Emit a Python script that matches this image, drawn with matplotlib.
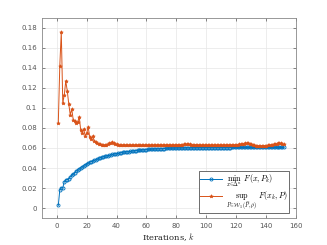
import matplotlib
matplotlib.use('Agg')
from matplotlib import pyplot as plt
from matplotlib.ticker import FormatStrFormatter

# iterations 1..152
k = list(range(1, 153))

# min_x F(x, P_k)  (lower bound)
lower = [
    0.0026, 0.0180, 0.0205, 0.0200, 0.0265, 0.0280, 0.0285, 0.0295, 0.0310, 0.0330,
    0.0340, 0.0355, 0.0370, 0.0385, 0.0395, 0.0405, 0.0415, 0.0425, 0.0435, 0.0442,
    0.0450, 0.0458, 0.0465, 0.0472, 0.0478, 0.0484, 0.0490, 0.0496, 0.0501, 0.0506,
    0.0511, 0.0515, 0.0519, 0.0523, 0.0527, 0.0531, 0.0535, 0.0538, 0.0541, 0.0544,
    0.0547, 0.0550, 0.0553, 0.0555, 0.0558, 0.0560, 0.0562, 0.0564, 0.0566, 0.0568,
    0.0570, 0.0572, 0.0574, 0.0575, 0.0577, 0.0578, 0.0580, 0.0581, 0.0582, 0.0584,
    0.0585, 0.0586, 0.0587, 0.0588, 0.0589, 0.0590, 0.0591, 0.0592, 0.0592, 0.0593,
    0.0594, 0.0594, 0.0595, 0.0596, 0.0596, 0.0597, 0.0597, 0.0598, 0.0598, 0.0599,
    0.0599, 0.0599, 0.0600, 0.0600, 0.0600, 0.0601, 0.0601, 0.0601, 0.0601, 0.0602,
    0.0602, 0.0602, 0.0602, 0.0602, 0.0603, 0.0603, 0.0603, 0.0603, 0.0603, 0.0603,
    0.0603, 0.0603, 0.0604, 0.0604, 0.0604, 0.0604, 0.0604, 0.0604, 0.0604, 0.0604,
    0.0604, 0.0604, 0.0604, 0.0604, 0.0604, 0.0604, 0.0605, 0.0605, 0.0605, 0.0605,
    0.0605, 0.0605, 0.0605, 0.0605, 0.0605, 0.0605, 0.0605, 0.0605, 0.0605, 0.0605,
    0.0605, 0.0605, 0.0605, 0.0605, 0.0605, 0.0605, 0.0605, 0.0605, 0.0605, 0.0605,
    0.0605, 0.0605, 0.0605, 0.0605, 0.0605, 0.0605, 0.0605, 0.0605, 0.0605, 0.0605,
    0.0605, 0.0605,
]

# sup_P F(x_k, P)  (upper bound)
upper = [
    0.0850, 0.1420, 0.1760, 0.1050, 0.1130, 0.1270, 0.1170, 0.1040, 0.0930, 0.0990,
    0.0880, 0.0870, 0.0850, 0.0860, 0.0910, 0.0780, 0.0750, 0.0790, 0.0720, 0.0750,
    0.0810, 0.0710, 0.0690, 0.0720, 0.0670, 0.0660, 0.0645, 0.0640, 0.0635, 0.0632,
    0.0630, 0.0630, 0.0632, 0.0638, 0.0645, 0.0652, 0.0655, 0.0650, 0.0643, 0.0636,
    0.0632, 0.0630, 0.0630, 0.0629, 0.0629, 0.0629, 0.0629, 0.0628, 0.0628, 0.0628,
    0.0628, 0.0628, 0.0628, 0.0628, 0.0628, 0.0628, 0.0628, 0.0628, 0.0628, 0.0628,
    0.0628, 0.0628, 0.0628, 0.0628, 0.0628, 0.0628, 0.0628, 0.0628, 0.0628, 0.0628,
    0.0628, 0.0628, 0.0628, 0.0628, 0.0628, 0.0628, 0.0628, 0.0628, 0.0629, 0.0630,
    0.0631, 0.0632, 0.0633, 0.0634, 0.0635, 0.0635, 0.0636, 0.0636, 0.0635, 0.0634,
    0.0633, 0.0632, 0.0631, 0.0630, 0.0629, 0.0629, 0.0628, 0.0628, 0.0628, 0.0628,
    0.0628, 0.0628, 0.0628, 0.0628, 0.0628, 0.0628, 0.0628, 0.0628, 0.0628, 0.0628,
    0.0629, 0.0629, 0.0629, 0.0629, 0.0630, 0.0630, 0.0630, 0.0630, 0.0631, 0.0632,
    0.0633, 0.0635, 0.0638, 0.0641, 0.0644, 0.0647, 0.0648, 0.0645, 0.0640, 0.0635,
    0.0630, 0.0626, 0.0623, 0.0621, 0.0620, 0.0620, 0.0620, 0.0621, 0.0622, 0.0623,
    0.0625, 0.0627, 0.0630, 0.0633, 0.0636, 0.0639, 0.0642, 0.0645, 0.0646, 0.0645,
    0.0640, 0.0635,
]

xticks = list(range(0, 161, 20))
yticks = [0, 0.02, 0.04, 0.06, 0.08, 0.1, 0.12, 0.14, 0.16, 0.18]

plt.rcParams['mathtext.fontset'] = 'cm'

fig = plt.figure(figsize=(3.27, 2.45), dpi=100)
ax = fig.add_axes([0.128, 0.110, 0.777, 0.817])

blue = '#0072BD'
orange = '#D95319'

ax.plot(k, lower, color=blue, lw=0.7, marker='o', ms=2.2, mfc='none', mew=0.6,
        label=r'$\min_{x\in\Delta^n}\ F(x,P_k)$')
ax.plot(k, upper, color=orange, lw=0.7, marker='*', ms=2.6, mew=0.5,
        label=r'$\sup_{P\in\mathcal{W}_1(\widehat{P},\rho)}\ F(x_k,P)$')

ax.set_xlim(-10, 160)
ax.set_ylim(-0.01, 0.19)
ax.set_xticks(xticks)
ax.set_yticks(yticks)
ax.yaxis.set_major_formatter(FormatStrFormatter('%g'))
ax.tick_params(direction='in', labelsize=5, colors='#555555', length=2.5, width=0.5,
               top=True, right=True)
ax.grid(True, color='#e6e6e6', lw=0.5)
ax.set_axisbelow(True)
for s in ax.spines.values():
    s.set_color('#888888')
    s.set_linewidth(0.6)

ax.set_xlabel(r'Iterations, $k$', fontsize=6, family='serif', labelpad=2,
              color='#222222')

leg = ax.legend(loc='lower right', fontsize=5.8, frameon=True, fancybox=False,
                edgecolor='#333333', framealpha=1, borderpad=0.15, labelspacing=0.0,
                handlelength=2.8, handletextpad=0.5, bbox_to_anchor=(0.99, 0.005))
leg.get_frame().set_linewidth(0.5)

plt.savefig('out.png', dpi=100)
